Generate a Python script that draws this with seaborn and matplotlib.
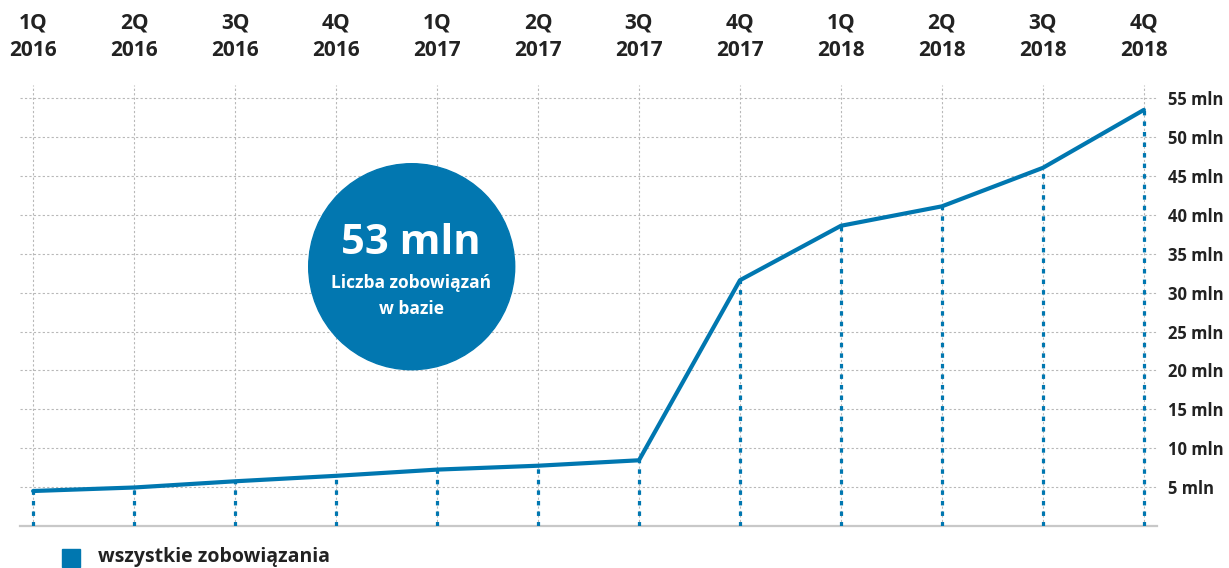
import matplotlib
matplotlib.use("Agg")
import matplotlib.pyplot as plt
import matplotlib.patches as mpatches
import seaborn as sns
import pandas as pd

quarters = ["1Q\n2016", "2Q\n2016", "3Q\n2016", "4Q\n2016",
            "1Q\n2017", "2Q\n2017", "3Q\n2017", "4Q\n2017",
            "1Q\n2018", "2Q\n2018", "3Q\n2018", "4Q\n2018"]
values = [4.5, 4.95, 5.75, 6.45, 7.25, 7.75, 8.45, 31.6, 38.6, 41.1, 46.05, 53.5]
y_ticks = [5, 10, 15, 20, 25, 30, 35, 40, 45, 50, 55]
y_labels = [f"{v} mln" for v in y_ticks]
badge_value = "53 mln"
badge_text = "Liczba zobowiązań\nw bazie"
legend_label = "wszystkie zobowiązania"

blue = "#0077b0"
dark = "#222222"

sns.set_style("white")
plt.rcParams["font.family"] = ["Open Sans", "DejaVu Sans"]

df = pd.DataFrame({"pos": range(len(values)), "value": values})

fig = plt.figure(figsize=(12.29, 5.68), dpi=100)
ax = fig.add_axes([20 / 1229, 42 / 568, 1137 / 1229, 441 / 568])

# dotted drop lines from each point
ax.vlines(df["pos"], 0, df["value"], color=blue, lw=2.3,
          linestyles=[(0, (1.4, 1.9))], zorder=3)
sns.lineplot(data=df, x="pos", y="value", color=blue, lw=3, ax=ax, zorder=4)

ax.set_xlim(-0.13, 11.13)
ax.set_ylim(0, 56.7)
ax.set_xticks(df["pos"])
ax.set_xticklabels(quarters)
ax.set_yticks(y_ticks)
ax.set_yticklabels(y_labels)
ax.set_xlabel("")
ax.set_ylabel("")

ax.xaxis.tick_top()
ax.yaxis.tick_right()
ax.tick_params(axis="x", length=0, pad=17, labelsize=15, labelcolor=dark)
ax.tick_params(axis="y", length=0, pad=8, labelsize=12, labelcolor=dark)
for lab in ax.get_xticklabels() + ax.get_yticklabels():
    lab.set_fontweight("bold")
for lab in ax.get_xticklabels():
    lab.set_linespacing(1.45)

ax.grid(True, color="#b8b8b8", lw=0.8, linestyle=(0, (2, 2)))
ax.set_axisbelow(True)
for s in ["top", "left", "right"]:
    ax.spines[s].set_visible(False)
ax.spines["bottom"].set_color("#c8c8c8")
ax.spines["bottom"].set_linewidth(1.6)

# badge circle
circ = mpatches.Circle((411.7 / 100, (568 - 266.7) / 100), 1.03,
                       transform=fig.dpi_scale_trans, color="#0277b0",
                       zorder=5, clip_on=False)
ax.add_patch(circ)
fig.text(411 / 1229, 1 - 244 / 568, badge_value, color="white", fontsize=30,
         fontweight="bold", ha="center", va="center", zorder=6)
fig.text(411 / 1229, 1 - 296 / 568, badge_text, color="white", fontsize=12.5,
         fontweight="bold", ha="center", va="center", linespacing=1.5, zorder=6)

# legend
fig.patches.append(mpatches.Rectangle((62 / 1229, 1 - 567 / 568), 18 / 1229, 18 / 568,
                                      transform=fig.transFigure, color=blue))
fig.text(98 / 1229, 1 - 557 / 568, legend_label, color=dark, fontsize=14,
         fontweight="bold", ha="left", va="center")

fig.savefig("out.png", dpi=100)
